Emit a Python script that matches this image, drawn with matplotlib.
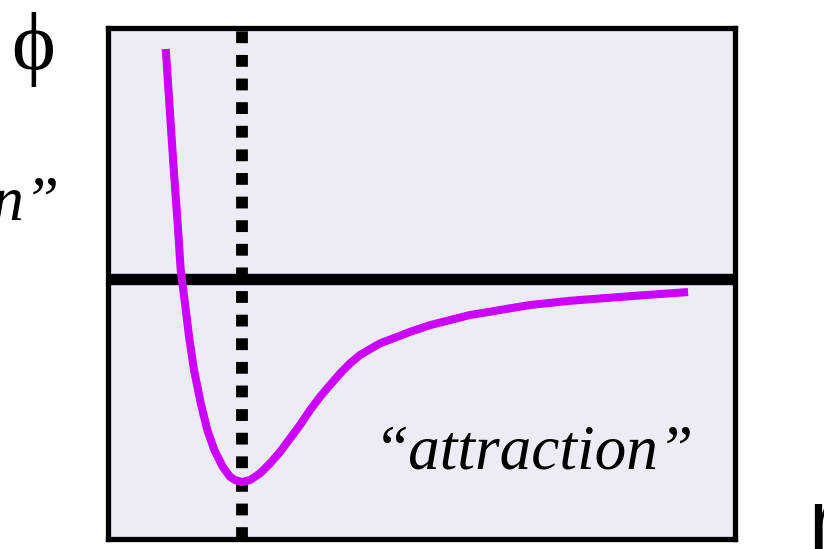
import matplotlib
matplotlib.use("Agg")
import matplotlib.pyplot as plt

# pair potential phi(r), r in units of the minimum position, phi in units of the well depth
r_vals = [0.433, 0.461, 0.489, 0.520, 0.544, 0.576, 0.606, 0.643, 0.693, 0.742,
          0.794, 0.857, 0.911, 0.948, 1.000, 1.059, 1.134, 1.208, 1.283, 1.357,
          1.431, 1.506, 1.580, 1.654, 1.729, 1.803, 1.877, 1.952, 2.026, 2.125,
          2.249, 2.398, 2.546, 2.695, 2.844, 2.993, 3.141, 3.439, 3.935, 4.316]
phi_vals = [1.133, 0.852, 0.571, 0.286, 0.044, -0.120, -0.284, -0.448, -0.612, -0.744,
            -0.842, -0.925, -0.974, -0.990, -1.000, -0.990, -0.957, -0.908, -0.851, -0.785,
            -0.719, -0.645, -0.580, -0.522, -0.465, -0.415, -0.374, -0.345, -0.317, -0.292,
            -0.260, -0.227, -0.202, -0.177, -0.161, -0.144, -0.128, -0.107, -0.082, -0.064]
r_min = 1.0

fig = plt.figure(figsize=(8.24, 5.49), dpi=100)
ax = fig.add_axes([0.1305, 0.0191, 0.7615, 0.9308])
ax.set_facecolor("#ECECF5")
ax.set_xlim(0, 4.665)
ax.set_ylim(-1.278, 1.239)
ax.set_xticks([])
ax.set_yticks([])
for s in ax.spines.values():
    s.set_linewidth(3.8)
    s.set_color("black")

ax.axhline(0, color="black", lw=8.2, zorder=2)
ax.axvline(r_min, color="black", lw=8.5, dashes=(1, 1), dash_capstyle="butt", zorder=2)
ax.plot(r_vals, phi_vals, color="#CC00FF", lw=5.8, solid_capstyle="butt",
        solid_joinstyle="round", zorder=3)

serif = ["Liberation Serif", "DejaVu Serif"]
ax.text(3.171, -0.931, "\u201cattraction\u201d", fontsize=45.5, style="italic",
        family=serif, ha="center", va="baseline")
fig.text(60 / 824, 1 - 220 / 549, "\u201crepulsion\u201d", fontsize=45.5, style="italic",
         family=serif, ha="right", va="baseline")
fig.text(33 / 824, 1 - 49 / 549, "\u03d5", fontsize=60, family=serif,
         ha="center", va="center")
fig.text(808 / 824, 1 - 549 / 549, "r", fontsize=62, family=["Liberation Sans"],
         ha="left", va="baseline")

fig.savefig("out.png", dpi=100)
